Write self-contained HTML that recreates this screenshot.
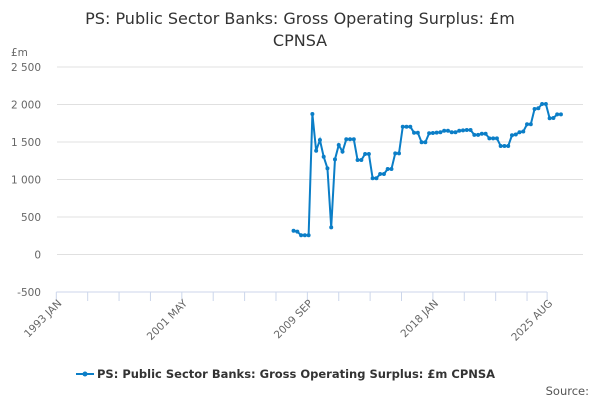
<!DOCTYPE html>
<html><head><meta charset="utf-8"><style>
body{margin:0;background:#fff;font-family:"DejaVu Sans","Liberation Sans",sans-serif}
</style></head><body>
<svg width="600" height="400" xmlns="http://www.w3.org/2000/svg" font-family="DejaVu Sans, Liberation Sans, sans-serif">
<text x="300" y="24" text-anchor="middle" font-size="16" fill="#333">PS: Public Sector Banks: Gross Operating Surplus: £m</text>
<text x="300" y="46" text-anchor="middle" font-size="16" fill="#333">CPNSA</text>
<text x="11" y="56" font-size="10.5" fill="#666">£m</text>
<g id="grid"></g><g id="xaxis"></g><g id="series"></g>
<g>
<line x1="76" y1="374" x2="94" y2="374" stroke="#0b7ec7" stroke-width="2"/>
<circle cx="85" cy="374" r="2.5" fill="#0b7ec7"/>
<text x="97" y="378" font-size="11.5" font-weight="bold" fill="#333">PS: Public Sector Banks: Gross Operating Surplus: £m CPNSA</text>
</g>
<text x="589" y="395" text-anchor="end" font-size="11.5" fill="#555">Source:</text>
</svg>
<script>
const yTicks=[-500,0,500,1000,1500,2000,2500];
const yTickLabels=["-500","0","500","1 000","1 500","2 000","2 500"];
const xTickLabels=["1993 JAN","2001 MAY","2009 SEP","2018 JAN","2025 AUG"];
const xTickMonths=[0,100,200,300,391];
const startMonth=189; // 2008 Q4, months since 1993 JAN
const values=[317,305,256,256,256,1873,1384,1527,1304,1149,362,1269,1460,1371,1536,1536,1536,1260,1260,1340,1340,1016,1016,1073,1073,1140,1140,1349,1349,1704,1704,1704,1624,1624,1496,1496,1616,1620,1625,1630,1650,1650,1630,1630,1650,1655,1660,1660,1595,1595,1610,1610,1549,1549,1549,1447,1447,1447,1590,1600,1630,1640,1736,1736,1940,1950,2007,2007,1816,1820,1869,1869];
const NS="http://www.w3.org/2000/svg";
const X=m=>56.3+m*1.2553;
const Y=v=>254.5-v*0.075;
function mk(t,a,p){const e=document.createElementNS(NS,t);for(const k in a)e.setAttribute(k,a[k]);p.appendChild(e);return e;}
const grid=document.getElementById('grid');
yTicks.forEach((v,i)=>{
 if(v>-500){const l=mk('line',{x1:57,x2:583,y1:Y(v),y2:Y(v),stroke:'#e0e0e0','stroke-width':1},grid);
 
 }
 const t=mk('text',{x:41,y:Y(v)+4,'text-anchor':'end','font-size':10.5,fill:'#666'},grid);
 t.textContent=yTickLabels[i];
 
 
});
const xa=document.getElementById('xaxis');
const ax=mk('line',{x1:56.3,x2:547,y1:292,y2:292,stroke:'#ccd6eb'},xa);


for(let m=0;m<=391;m+=25){const t=mk('line',{x1:X(m),x2:X(m),y1:292,y2:301,stroke:'#ccd6eb'},xa);
 
 }
mk('line',{x1:X(391),x2:X(391),y1:292,y2:301,stroke:'#ccd6eb'},xa);
xTickLabels.forEach((s,i)=>{const x=X(xTickMonths[i])+6;
 const t=mk('text',{x:x,y:304,'text-anchor':'end','font-size':10.5,fill:'#666',transform:`rotate(-45 ${x} 304)`},xa);
 t.textContent=s;
 
 });
const sg=document.getElementById('series');
const pts=values.map((v,i)=>[X(startMonth+i*3),Y(v)]);
const pl=mk('polyline',{points:pts.map(p=>p.join(',')).join(' '),fill:'none',stroke:'#0b7ec7','stroke-width':2},sg);


pts.forEach(p=>{const c=mk('circle',{cx:p[0],cy:p[1],r:2,fill:'#0b7ec7'},sg);
 
 });
</script>
</body></html>
